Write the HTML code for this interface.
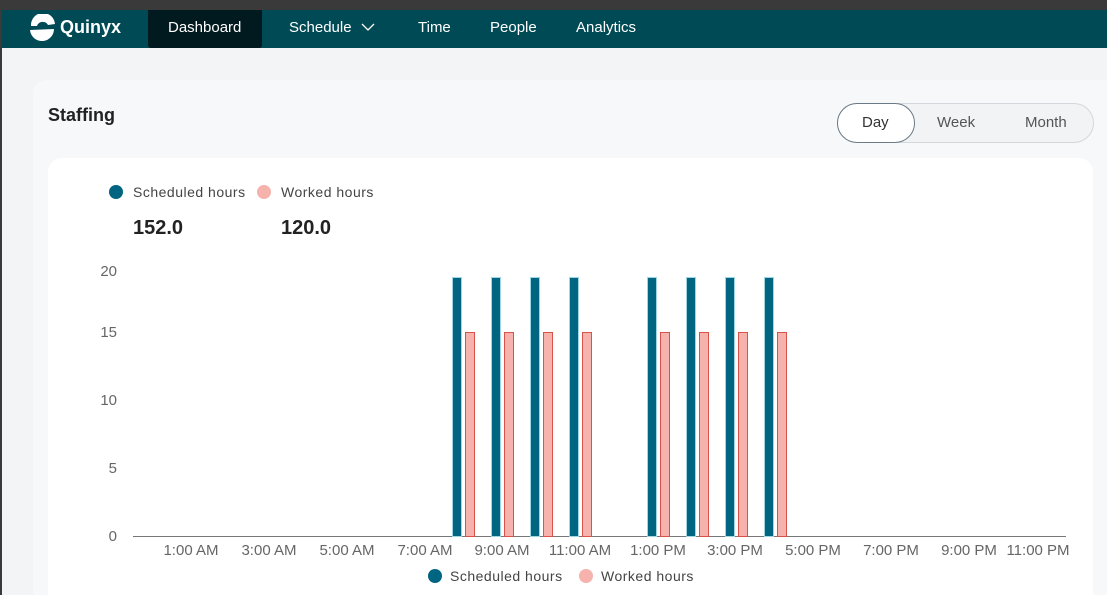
<!DOCTYPE html>
<html><head><meta charset="utf-8"><style>
html,body{margin:0;width:1107px;height:595px;overflow:hidden}
body{background:#3a3a3a;font-family:"Liberation Sans",sans-serif;position:relative}
.page{position:absolute;left:2px;top:10px;width:1105px;height:585px;background:#f3f4f6}
.nav{position:absolute;left:0;top:0;width:1105px;height:38px;background:#004a55;color:#fff;font-size:15px}
.nav span{position:absolute;top:9px}
.dash{position:absolute;left:146px;top:0;width:114px;height:38px;background:#001a1f;border-radius:0 0 3px 3px}
.card{position:absolute;left:33px;top:80px;width:1074px;height:515px;background:#f7f8fa;border-radius:14px 0 0 0}
.inner{position:absolute;left:48px;top:158px;width:1045px;height:437px;background:#fff;border-radius:14px 14px 0 0}
.t{position:absolute;white-space:nowrap}
</style></head><body>
<div class="page">
<div class="nav">
<div class="dash"></div>
<svg style="position:absolute;left:26px;top:4px" width="30" height="30" viewBox="0 0 30 30"><path d="M3 12 A12 12 0 0 1 27 10 L20 11 A6 6 0 0 0 9 12 Z" fill="#fff"/><path d="M2 16 L26 15 A12 12 0 0 1 15 27 A12 12 0 0 1 2 16Z" fill="#fff"/></svg>
<span style="left:58px;top:7px;font-weight:bold;font-size:18px">Quinyx</span>
<span style="left:166px">Dashboard</span>
<span style="left:287px">Schedule</span>
<svg style="position:absolute;left:359px;top:13px" width="14" height="9"><path d="M1 1 L7 7 L13 1" stroke="#fff" fill="none" stroke-width="1.3"/></svg>
<span style="left:416px">Time</span>
<span style="left:488px">People</span>
<span style="left:574px">Analytics</span>
</div>
</div>
<div class="card"></div>
<div class="t" style="left:48px;top:105px;font-size:18px;font-weight:bold;color:#222">Staffing</div>
<div style="position:absolute;left:837px;top:103px;width:255px;height:38px;border:1px solid #d4d8dc;border-radius:20px;background:#f1f3f5"></div>
<div style="position:absolute;left:837px;top:103px;width:76px;height:38px;border:1px solid #6a7a86;border-radius:20px;background:#fff"></div>
<div class="t" style="left:862px;top:114px;font-size:15px;color:#333">Day</div>
<div class="t" style="left:937px;top:114px;font-size:15px;color:#555">Week</div>
<div class="t" style="left:1025px;top:114px;font-size:15px;color:#555">Month</div>
<div class="inner"></div>
<svg style="position:absolute;left:0;top:0" width="1107" height="595" font-family="Liberation Sans" >
<circle cx="116" cy="192" r="7" fill="#006580"/><text x="133" y="197" font-size="14" fill="#444" letter-spacing="0.5">Scheduled hours</text>
<circle cx="264" cy="192" r="7" fill="#f6b2ac"/><text x="281" y="197" font-size="14" fill="#444" letter-spacing="0.5">Worked hours</text>
<text x="133" y="234" font-size="20" font-weight="bold" fill="#222">152.0</text>
<text x="281" y="234" font-size="20" font-weight="bold" fill="#222">120.0</text>
<g font-size="15" fill="#666" text-anchor="end">
<text x="117" y="276">20</text><text x="117" y="337">15</text><text x="117" y="405">10</text><text x="117" y="473">5</text><text x="117" y="541">0</text>
</g>
<line x1="133" y1="536.5" x2="1066" y2="536.5" stroke="#777" stroke-width="1"/>
<g fill="#006580" stroke="#9fd6e4" stroke-width="1">
<rect x="452.5" y="277.5" width="9" height="259"/><rect x="491.5" y="277.5" width="9" height="259"/><rect x="530.5" y="277.5" width="9" height="259"/><rect x="569.5" y="277.5" width="9" height="259"/>
<rect x="647.5" y="277.5" width="9" height="259"/><rect x="686.5" y="277.5" width="9" height="259"/><rect x="725.5" y="277.5" width="9" height="259"/><rect x="764.5" y="277.5" width="9" height="259"/>
</g>
<g fill="#f6b2ac" stroke="#d9534a" stroke-width="1">
<rect x="465.5" y="332.5" width="9" height="204"/><rect x="504.5" y="332.5" width="9" height="204"/><rect x="543.5" y="332.5" width="9" height="204"/><rect x="582.5" y="332.5" width="9" height="204"/>
<rect x="660.5" y="332.5" width="9" height="204"/><rect x="699.5" y="332.5" width="9" height="204"/><rect x="738.5" y="332.5" width="9" height="204"/><rect x="777.5" y="332.5" width="9" height="204"/>
</g>
<g font-size="15" fill="#666" text-anchor="middle">
<text x="191" y="555">1:00 AM</text><text x="269" y="555">3:00 AM</text><text x="347" y="555">5:00 AM</text><text x="425" y="555">7:00 AM</text>
<text x="502" y="555">9:00 AM</text><text x="580" y="555">11:00 AM</text><text x="658" y="555">1:00 PM</text><text x="735" y="555">3:00 PM</text>
<text x="813" y="555">5:00 PM</text><text x="891" y="555">7:00 PM</text><text x="969" y="555">9:00 PM</text><text x="1038" y="555">11:00 PM</text>
</g>
<circle cx="435" cy="576" r="7" fill="#006580"/><text x="450" y="581" font-size="14" fill="#444" letter-spacing="0.5">Scheduled hours</text>
<circle cx="586" cy="576" r="7" fill="#f6b2ac"/><text x="601" y="581" font-size="14" fill="#444" letter-spacing="0.5">Worked hours</text>
</svg>
</body></html>
